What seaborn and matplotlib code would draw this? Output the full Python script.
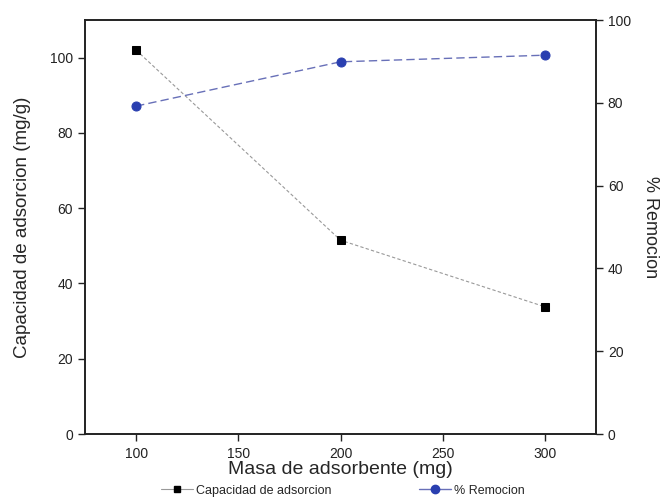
import matplotlib
matplotlib.use("Agg")
import matplotlib.pyplot as plt
import seaborn as sns
import pandas as pd
from matplotlib.lines import Line2D

masa = [100, 200, 300]
capacidad = [102.0, 51.5, 33.8]
remocion = [79.2, 89.9, 91.5]

sns.set_theme(style="white")
plt.rcParams['font.family'] = ['Liberation Sans', 'DejaVu Sans']

df = pd.DataFrame({"masa": masa, "capacidad": capacidad, "remocion": remocion})

fig = plt.figure(figsize=(6.6, 4.98), dpi=100)
ax = fig.add_axes([85/660, 1 - 434/498, (596-85)/660, (434-20)/498])
ax2 = ax.twinx()

sns.lineplot(data=df, x="masa", y="capacidad", ax=ax, color="#999999", lw=0.8,
             linestyle=(0, (3, 2)), marker="s", markersize=5.5, markerfacecolor="black",
             markeredgecolor="black", legend=False)
sns.lineplot(data=df, x="masa", y="remocion", ax=ax2, color="#6870b8", lw=1.0,
             linestyle=(0, (6, 3)), marker="o", markersize=6.5, markerfacecolor="#2a3fb0",
             markeredgecolor="#2a3fb0", legend=False)

ax.set_xlim(75, 325)
ax.set_ylim(0, 110)
ax2.set_ylim(0, 100)
ax.set_xticks([100, 150, 200, 250, 300])
ax.set_yticks([0, 20, 40, 60, 80, 100])
ax2.set_yticks([0, 20, 40, 60, 80, 100])

for a in (ax, ax2):
    for s in a.spines.values():
        s.set_color("#222222")
        s.set_linewidth(1.2)
ax.tick_params(axis="both", direction="out", length=5, width=1, labelsize=10,
               colors="#222222", left=True, bottom=True)
ax.tick_params(axis="x", pad=4)
ax2.tick_params(axis="y", direction="out", length=5, width=1, labelsize=10,
                colors="#222222", right=True)

ax.set_xlabel("Masa de adsorbente (mg)", fontsize=14, labelpad=0)
ax.set_ylabel("Capacidad de adsorcion (mg/g)", fontsize=13.5, labelpad=14)
ax2.set_ylabel("% Remocion", fontsize=13, rotation=270, labelpad=20)

handles = [
    Line2D([], [], color="#999999", lw=0.8, marker="s", markersize=5,
           markerfacecolor="black", markeredgecolor="black"),
    Line2D([], [], color="#6870b8", lw=1.0, marker="o", markersize=6,
           markerfacecolor="#2a3fb0", markeredgecolor="#2a3fb0"),
]
fig.legend(handles, ["Capacidad de adsorcion", "% Remocion"], loc="lower center",
           bbox_to_anchor=(0.52, -0.014), ncol=2, frameon=False, fontsize=9,
           handlelength=2.5, columnspacing=7, handletextpad=0.3, borderpad=0.15)

fig.savefig("out.png", dpi=100)
